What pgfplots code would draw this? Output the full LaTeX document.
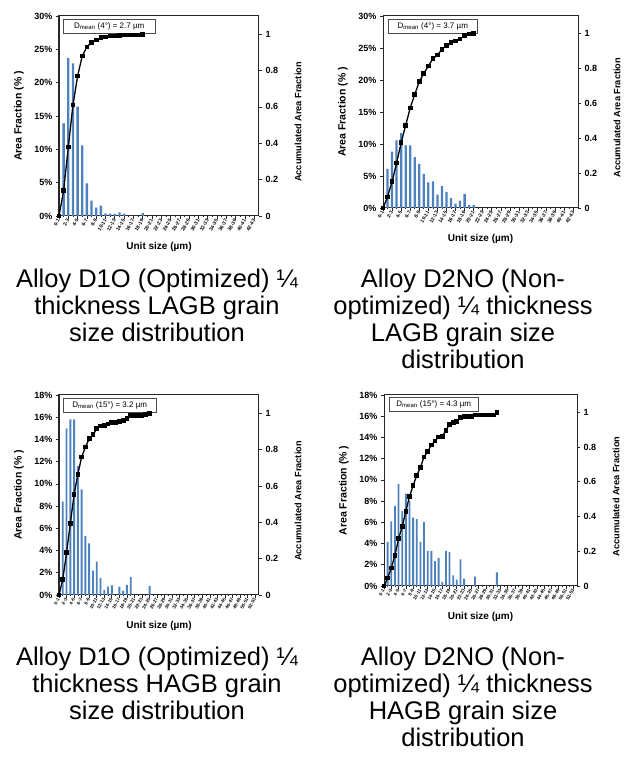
\documentclass[border=0pt]{standalone}
\usepackage{fontspec}
\setmainfont{Liberation Sans}
\usepackage{pgfplots}
\pgfplotsset{compat=1.18}
\definecolor{barblue}{RGB}{79,129,189}

\tikzset{dbox/.style={draw=black!70, line width=0.5pt, anchor=north west, minimum height=14pt,
    inner sep=1pt, fill=white, font=\fontsize{8}{8}\selectfont}}

\pgfplotsset{
  panel/.style={scale only axis, anchor=south west, xmin=0, ymin=0,
    /pgf/number format/assume math mode=true,
    axis line style={line width=1pt, black!85},
    tick style={line width=0.7pt, black!85},
    major tick length=3pt, minor tick length=1.5pt, tick align=outside,
    tick label style={font=\fontsize{9}{9}\selectfont\bfseries}},
  leftax/.style={panel, ytick pos=left, xtick pos=bottom, minor x tick num=1,
    yticklabel={\bfseries\pgfmathprintnumber{\tick}\%},
    x tick label style={font=\fontsize{5}{5}\selectfont\bfseries, rotate=60, anchor=east, inner sep=0.5pt},
    every axis y label/.style={at={(axis description cs:0,0.5)}, xshift=-40pt, rotate=90, anchor=center,
      font=\fontsize{10.5}{11}\selectfont\bfseries},
    every axis x label/.style={at={(axis description cs:0.5,0)}, yshift=-31pt, anchor=center,
      font=\fontsize{10}{10}\selectfont\bfseries},
    ylabel={\bfseries Area Fraction (\% )}, xlabel={\bfseries Unit size (µm)}},
  rightax/.style={panel, ymax=1.1, hide x axis, ytick pos=right, ytick={0,0.2,0.4,0.6,0.8,1}, clip=false,
    yticklabel={\bfseries\pgfmathprintnumber{\tick}},
    every axis y label/.style={at={(axis description cs:1,0.47)}, xshift=39pt, rotate=90, anchor=center,
      font=\fontsize{9.2}{10}\selectfont\bfseries},
    ylabel={\bfseries Accumulated Area Fraction}},
  barplot/.style={ybar, bar width=0.5, fill=barblue, draw=none},
  cumplot/.style={black, line width=1.3pt, mark=square*, mark size=1.7pt},
  short/.style={xmax=43, xtick={0,2,...,42},
    xticklabels={0-1,2-3,4-5,6-7,8-9,10-11,12-13,14-15,16-17,18-19,20-21,22-23,24-25,26-27,28-29,30-31,32-33,34-35,36-37,38-39,40-41,42-43}},
  long/.style={xmax=53, xtick={0,2,...,52},
    x tick label style={font=\fontsize{4.6}{5}\selectfont\bfseries},
    xticklabels={0-1,2-3,4-5,6-7,8-9,10-11,12-13,14-15,16-17,18-19,20-21,22-23,24-25,26-27,28-29,30-31,32-33,34-35,36-37,38-39,40-41,42-43,44-45,46-47,48-49,50-51,52-53}},
}

\begin{document}
\begin{tikzpicture}
\path[use as bounding box] (0pt,0pt) rectangle (629pt,776pt);

% top left: D1O LAGB
\begin{axis}[leftax, short, at={(59pt,560pt)}, width=200pt, height=200pt, ymax=30, ytick={0,5,...,30}]
\addplot[barplot] coordinates {(0,0)(1,13.9)(2,23.7)(3,22.9)(4,16.4)(5,10.6)(6,4.9)(7,2.3)(8,1.25)(9,1.55)(10,0.4)(11,0.35)(12,0.3)(13,0.55)(14,0.3)(15,0)(16,0)(17,0)(18,0.45)};
\node[dbox, minimum width=92pt] at (rel axis cs:0.02,0.985) {D\textsubscript{mean} (4°) = 2.7 µm};
\end{axis}
\begin{axis}[rightax, xmax=43, at={(59pt,560pt)}, width=200pt, height=200pt]
\addplot[cumplot] coordinates {(0,0)(1,0.14)(2,0.38)(3,0.61)(4,0.77)(5,0.88)(6,0.93)(7,0.955)(8,0.968)(9,0.98)(10,0.985)(11,0.99)(12,0.99)(13,0.993)(14,0.995)(15,0.995)(16,0.995)(17,0.995)(18,1.0)};
\end{axis}

% top right: D2NO LAGB
\begin{axis}[leftax, short, at={(383pt,568pt)}, width=195pt, height=192pt, ymax=30, ytick={0,5,...,30}]
\addplot[barplot] coordinates {(0,0)(1,6.1)(2,8.8)(3,10.55)(4,11.7)(5,9.8)(6,9.8)(7,7.95)(8,6.9)(9,5.35)(10,4.0)(11,4.15)(12,2.1)(13,3.4)(14,2.5)(15,1.55)(16,0.7)(17,1.15)(18,2.2)(19,0.5)(20,0.5)};
\node[dbox, minimum width=89pt] at (rel axis cs:0.026,0.984) {D\textsubscript{mean} (4°) = 3.7 µm};
\end{axis}
\begin{axis}[rightax, xmax=43, at={(383pt,568pt)}, width=195pt, height=192pt]
\addplot[cumplot] coordinates {(0,0)(1,0.063)(2,0.152)(3,0.257)(4,0.375)(5,0.474)(6,0.573)(7,0.651)(8,0.724)(9,0.771)(10,0.813)(11,0.855)(12,0.876)(13,0.909)(14,0.931)(15,0.95)(16,0.956)(17,0.968)(18,0.99)(19,0.996)(20,1.0)};
\end{axis}

% bottom left: D1O HAGB
\begin{axis}[leftax, long, at={(59pt,181pt)}, width=200pt, height=200pt, ymax=18, ytick={0,2,...,18}]
\addplot[barplot] coordinates {(0,0)(1,8.4)(2,15.0)(3,15.8)(4,15.8)(5,11.6)(6,9.5)(7,5.3)(8,4.65)(9,2.2)(10,3.0)(11,1.55)(12,0.45)(13,0.75)(14,0.87)(15,0)(16,0.75)(17,0.4)(18,0.9)(19,1.6)(20,0)(21,0)(22,0)(23,0)(24,0.8)};
\node[dbox, minimum width=93pt] at (rel axis cs:0.02,0.985) {D\textsubscript{mean} (15°) = 3.2 µm};
\end{axis}
\begin{axis}[rightax, xmax=53, at={(59pt,181pt)}, width=200pt, height=200pt]
\addplot[cumplot] coordinates {(0,0)(1,0.086)(2,0.232)(3,0.393)(4,0.552)(5,0.664)(6,0.759)(7,0.814)(8,0.859)(9,0.881)(10,0.914)(11,0.929)(12,0.932)(13,0.94)(14,0.947)(15,0.947)(16,0.954)(17,0.958)(18,0.969)(19,0.987)(20,0.987)(21,0.987)(22,0.987)(23,0.991)(24,1.0)};
\end{axis}

% bottom right: D2NO HAGB
\begin{axis}[leftax, long, at={(384pt,190pt)}, width=193pt, height=191pt, ymax=18, ytick={0,2,...,18}]
\addplot[barplot] coordinates {(0,0)(1,4.15)(2,6.1)(3,7.55)(4,9.6)(5,7.05)(6,8.7)(7,8.05)(8,6.45)(9,6.3)(10,4.15)(11,6.05)(12,3.3)(13,3.3)(14,2.35)(15,2.65)(16,0.4)(17,3.3)(18,3.2)(19,1.0)(20,0.6)(21,2.5)(22,0.7)(23,0)(24,0)(25,0.88)(26,0)(27,0)(28,0)(29,0)(30,0)(31,1.29)};
\node[dbox, minimum width=89pt] at (rel axis cs:0.026,0.99) {D\textsubscript{mean} (15°) = 4.3 µm};
\end{axis}
\begin{axis}[rightax, xmax=53, at={(384pt,190pt)}, width=193pt, height=191pt]
\addplot[cumplot] coordinates {(0,0)(1,0.046)(2,0.103)(3,0.176)(4,0.272)(5,0.343)(6,0.431)(7,0.515)(8,0.579)(9,0.636)(10,0.684)(11,0.743)(12,0.774)(13,0.812)(14,0.835)(15,0.858)(16,0.862)(17,0.897)(18,0.931)(19,0.943)(20,0.948)(21,0.969)(22,0.977)(23,0.977)(24,0.977)(25,0.985)(26,0.985)(27,0.985)(28,0.985)(29,0.985)(30,0.985)(31,1.0)};
\end{axis}

% captions
\begin{scope}[every node/.style={anchor=base, font=\fontsize{25.5}{26}\selectfont}]
\node at (157pt,488pt) {Alloy D1O (Optimized) ¼};
\node at (157pt,461pt) {thickness LAGB grain};
\node at (157pt,434pt) {size distribution};
\node at (463pt,488pt) {Alloy D2NO (Non-};
\node at (463pt,461pt) {optimized) ¼ thickness};
\node at (463pt,434pt) {LAGB grain size};
\node at (463pt,407pt) {distribution};
\node at (157pt,110pt) {Alloy D1O (Optimized) ¼};
\node at (157pt,83pt) {thickness HAGB grain};
\node at (157pt,56pt) {size distribution};
\node at (463pt,110pt) {Alloy D2NO (Non-};
\node at (463pt,83pt) {optimized) ¼ thickness};
\node at (463pt,56pt) {HAGB grain size};
\node at (463pt,29pt) {distribution};
\end{scope}
\end{tikzpicture}
\end{document}
